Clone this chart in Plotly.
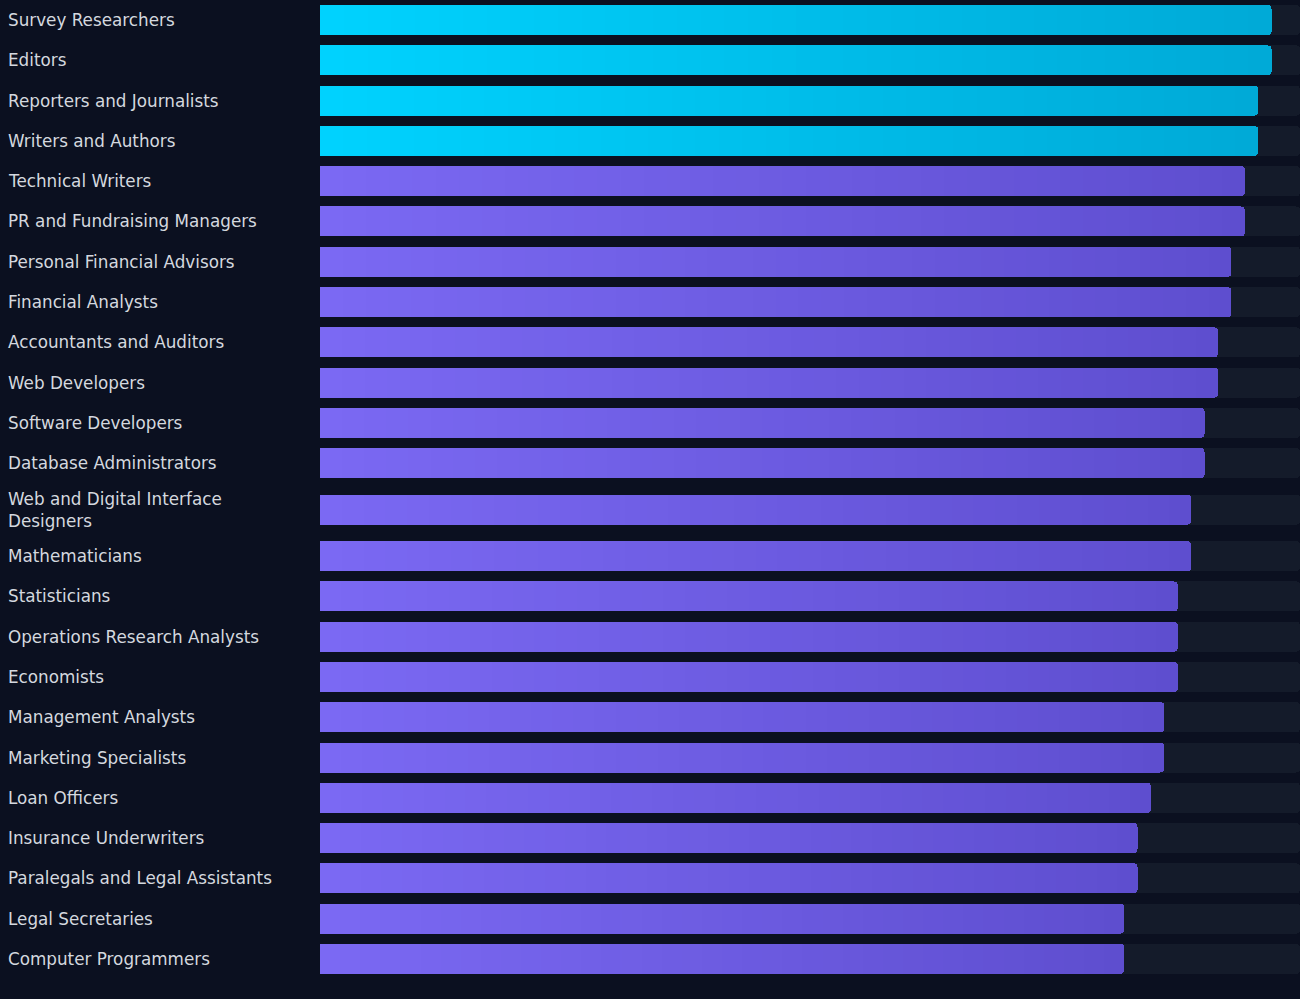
import plotly.graph_objects as go

# ---------------- data ----------------
occupations = [
    "Survey Researchers", "Editors", "Reporters and Journalists", "Writers and Authors",
    "Technical Writers", "PR and Fundraising Managers", "Personal Financial Advisors",
    "Financial Analysts", "Accountants and Auditors", "Web Developers",
    "Software Developers", "Database Administrators",
    "Web and Digital Interface<br>Designers", "Mathematicians", "Statisticians",
    "Operations Research Analysts", "Economists", "Management Analysts",
    "Marketing Specialists", "Loan Officers", "Insurance Underwriters",
    "Paralegals and Legal Assistants", "Legal Secretaries", "Computer Programmers",
]
scores = [
    0.71, 0.71, 0.70, 0.70, 0.69, 0.69, 0.68, 0.68, 0.67, 0.67, 0.66, 0.66,
    0.65, 0.65, 0.64, 0.64, 0.64, 0.63, 0.63, 0.62, 0.61, 0.61, 0.60, 0.60,
]
highlight_min = 0.70

# ---------------- styling ----------------
BG = "#0b1020"
TRACK = "#141b2a"
TEXT = "#d4d8df"
CYAN = ("#00d3ff", "#00a9d6")
PURPLE = ("#7b69f3", "#5e4ecf")
N_SEG = 40            # slices used to fake the left->right gradient
X_MAX = max(scores) / 0.971
BAR_W = 0.745
EXTRA_LINE = 0.31     # extra row height for a wrapped label


def mix(c1, c2, t):
    a = [int(c1[i:i + 2], 16) for i in (1, 3, 5)]
    b = [int(c2[i:i + 2], 16) for i in (1, 3, 5)]
    return "rgb(%d,%d,%d)" % tuple(round(a[k] + (b[k] - a[k]) * t) for k in range(3))


# row positions (a wrapped label makes its row a bit taller)
heights = [1 + EXTRA_LINE * name.count("<br>") for name in occupations]
ypos = []
acc = 0
for h in heights:
    ypos.append(acc + h / 2)
    acc += h

fig = go.Figure()

# background tracks
fig.add_trace(go.Bar(
    y=ypos, x=[X_MAX] * len(scores), orientation="h", width=BAR_W,
    marker=dict(color=TRACK, line=dict(width=0)), xaxis="x", yaxis="y",
    hoverinfo="skip", showlegend=False,
))

# gradient bars, stacked in slices
for k in range(N_SEG):
    t = (k + 0.5) / N_SEG
    cols = [mix(*(CYAN if s >= highlight_min else PURPLE), t) for s in scores]
    fig.add_trace(go.Bar(
        y=ypos, x=[s / N_SEG for s in scores], orientation="h", width=BAR_W,
        marker=dict(color=cols, line=dict(width=0)), xaxis="x2", yaxis="y",
        hoverinfo="skip", showlegend=False,
    ))

# left-aligned labels
for name, y in zip(occupations, ypos):
    fig.add_annotation(
        x=-314 / 980, xref="paper", y=y, yref="y", text=name, showarrow=False,
        xanchor="left", yanchor="middle", align="left",
        font=dict(family="DejaVu Sans", size=16.8, color=TEXT),
    )

fig.update_layout(
    width=1300, height=999,
    paper_bgcolor=BG, plot_bgcolor=BG,
    margin=dict(l=320, r=0, t=0, b=20),
    barmode="stack", barcornerradius=4,
    xaxis=dict(range=[0, X_MAX], visible=False, fixedrange=True),
    xaxis2=dict(range=[0, X_MAX], visible=False, overlaying="x", fixedrange=True),
    yaxis=dict(range=[acc, 0], visible=False, fixedrange=True),
    showlegend=False,
)

fig.write_html(
    "out.html",
    config={"displayModeBar": False},
    post_script="document.body.style.margin='0';"
                "document.body.style.background='%s';"
                "document.body.style.overflow='hidden';" % BG,
)
